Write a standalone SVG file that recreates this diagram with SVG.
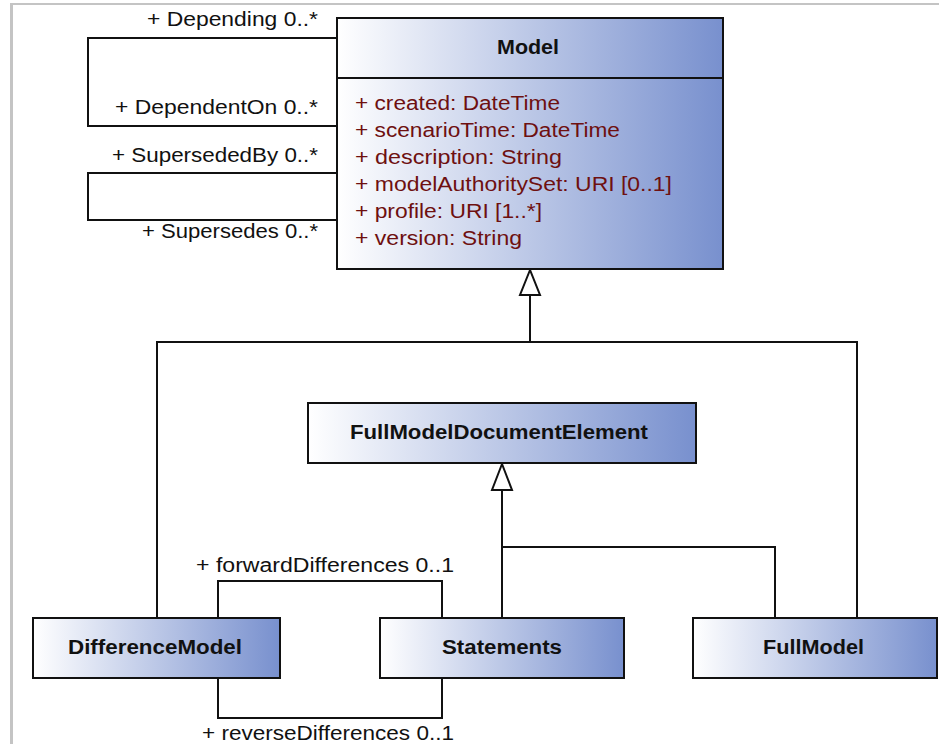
<svg xmlns="http://www.w3.org/2000/svg" width="939" height="744" viewBox="0 0 939 744">
<defs>
<linearGradient id="g" x1="0" y1="0" x2="1" y2="0">
<stop offset="0" stop-color="#ffffff"/>
<stop offset="1" stop-color="#7890ce"/>
</linearGradient>
<style>
.box{fill:url(#g);stroke:#111;stroke-width:2}
.ln{fill:none;stroke:#111;stroke-width:2}
.tri{fill:#fff;stroke:#111;stroke-width:2;stroke-linejoin:miter}
.t{font-family:"Liberation Sans",Arial,sans-serif;font-size:20px;font-weight:bold;fill:#111}
.a{font-family:"Liberation Sans",Arial,sans-serif;font-size:19.5px;fill:#6e1010}
.l{font-family:"Liberation Sans",Arial,sans-serif;font-size:19.5px;fill:#111}
.frame{stroke:#c4c4c4;fill:none}
</style>
</defs>
<rect width="939" height="744" fill="#fff"/>
<g id="frame">
<line class="frame" x1="11.5" y1="3" x2="11.5" y2="744" stroke-width="3"/>
<line class="frame" x1="10" y1="4" x2="939" y2="4" stroke-width="2"/>
</g>
<g id="connectors">
<polyline class="ln" points="337,38 88,38 88,126 337,126"/>
<polyline class="ln" points="337,173 88,173 88,220 337,220"/>
<line class="ln" x1="530" y1="295" x2="530" y2="342"/>
<polyline class="ln" points="157,618 157,342 857,342 857,618"/>
<polygon class="tri" points="530,270 520,295 540,295"/>
<line class="ln" x1="502" y1="490" x2="502" y2="618"/>
<polyline class="ln" points="502,547 775,547 775,618"/>
<polygon class="tri" points="502,464 492,490 512,490"/>
<polyline class="ln" points="218,618 218,581 442,581 442,618"/>
<polyline class="ln" points="218,678 218,718 442,718 442,678"/>
<text class="l" x="147" y="26" textLength="171" lengthAdjust="spacingAndGlyphs">+ Depending 0..*</text>
<text class="l" x="115" y="114" textLength="203" lengthAdjust="spacingAndGlyphs">+ DependentOn 0..*</text>
<text class="l" x="112" y="162" textLength="206" lengthAdjust="spacingAndGlyphs">+ SupersededBy 0..*</text>
<text class="l" x="142" y="238" textLength="176" lengthAdjust="spacingAndGlyphs">+ Supersedes 0..*</text>
<text class="l" x="196" y="572" textLength="258" lengthAdjust="spacingAndGlyphs">+ forwardDifferences 0..1</text>
<text class="l" x="202" y="740" textLength="252" lengthAdjust="spacingAndGlyphs">+ reverseDifferences 0..1</text>
</g>
<g id="Model">
<rect class="box" x="337" y="18" width="386" height="251"/>
<line class="ln" x1="337" y1="78" x2="723" y2="78"/>
<text class="t" x="497" y="54" font-size="22" textLength="62" lengthAdjust="spacingAndGlyphs">Model</text>
<text class="a" x="355" y="110" textLength="205" lengthAdjust="spacingAndGlyphs">+ created: DateTime</text>
<text class="a" x="355" y="137" textLength="265" lengthAdjust="spacingAndGlyphs">+ scenarioTime: DateTime</text>
<text class="a" x="355" y="164" textLength="207" lengthAdjust="spacingAndGlyphs">+ description: String</text>
<text class="a" x="355" y="191" textLength="317" lengthAdjust="spacingAndGlyphs">+ modelAuthoritySet: URI [0..1]</text>
<text class="a" x="355" y="218" textLength="187" lengthAdjust="spacingAndGlyphs">+ profile: URI [1..*]</text>
<text class="a" x="355" y="245" textLength="167" lengthAdjust="spacingAndGlyphs">+ version: String</text>
</g>
<g id="FullModelDocumentElement">
<rect class="box" x="308" y="403" width="388" height="60"/>
<text class="t" x="350" y="439" textLength="298" lengthAdjust="spacingAndGlyphs">FullModelDocumentElement</text>
</g>
<g id="DifferenceModel">
<rect class="box" x="33" y="618" width="247" height="60"/>
<text class="t" x="68" y="654" textLength="174" lengthAdjust="spacingAndGlyphs">DifferenceModel</text>
</g>
<g id="Statements">
<rect class="box" x="380" y="618" width="244" height="60"/>
<text class="t" x="442" y="654" textLength="120" lengthAdjust="spacingAndGlyphs">Statements</text>
</g>
<g id="FullModel">
<rect class="box" x="693" y="618" width="244" height="60"/>
<text class="t" x="763" y="654" textLength="101" lengthAdjust="spacingAndGlyphs">FullModel</text>
</g>
</svg>
